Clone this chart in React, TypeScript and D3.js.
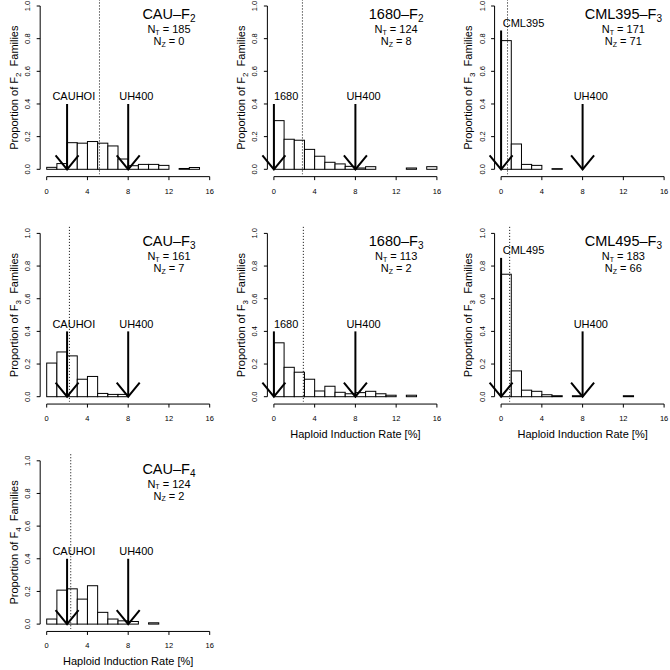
import React from 'react';
import * as d3 from 'd3';

// share of families in each 1% bin of haploid induction rate (0-1, 1-2, ... 15-16)
const cauF2 = [0.012, 0.035, 0.163, 0.16, 0.17, 0.16, 0.143, 0.063, 0.022, 0.03, 0.03, 0.024, 0, 0.005, 0.011, 0];
const f1680F2 = [0.298, 0.184, 0.178, 0.122, 0.08, 0.043, 0.033, 0.018, 0.008, 0.016, 0, 0, 0, 0.008, 0, 0.016];
const cml395F3 = [0.788, 0.155, 0.03, 0.024, 0, 0.004, 0, 0, 0, 0, 0, 0, 0, 0, 0, 0];
const cauF3 = [0.206, 0.274, 0.25, 0.107, 0.124, 0.02, 0.014, 0.014, 0, 0, 0, 0, 0, 0, 0, 0];
const f1680F3 = [0.33, 0.18, 0.15, 0.107, 0.035, 0.064, 0.027, 0.018, 0.025, 0.033, 0.018, 0.009, 0, 0.009, 0, 0];
const cml495F3 = [0.75, 0.158, 0.04, 0.033, 0.012, 0.006, 0, 0.006, 0, 0, 0, 0, 0.006, 0, 0, 0];
const cauF4 = [0.031, 0.208, 0.216, 0.153, 0.235, 0.072, 0.031, 0.02, 0.016, 0, 0.008, 0, 0, 0, 0, 0];

const proportions = [cauF2, f1680F2, cml395F3, cauF3, f1680F3, cml495F3, cauF4];
const crosses = ['CAU', '1680', 'CML395', 'CAU', '1680', 'CML495', 'CAU'];
const generations = ['2', '2', '3', '3', '3', '3', '4'];
const nTotal = [185, 124, 171, 161, 113, 183, 124];
const nZero = [0, 8, 71, 7, 2, 66, 2];
const means = [5.18, 2.8, 0.63, 2.23, 2.89, 0.84, 2.36];
const parents = ['CAUHOI', '1680', 'CML395', 'CAUHOI', '1680', 'CML495', 'CAUHOI'];
const parentRates = [2, 0, 0, 2, 0, 0, 2];
const parentArrowTops = [0.4, 0.4, 0.85, 0.4, 0.4, 0.85, 0.4];
const inducer = 'UH400';
const inducerRate = 8;
const inducerArrowTop = 0.4;
const xTicks = [0, 4, 8, 12, 16];
const yTicks = [0, 0.2, 0.4, 0.6, 0.8, 1.0];
const showXLabel = [false, false, false, false, true, true, true];

// label centre offsets (in x units) from the arrow, per parent label
const parentLabelShift: Record<string, number> = { CAUHOI: 0.66, '1680': 1.2, CML395: 2.2, CML495: 2.2 };
const inducerLabelShift = 0.8;

const font = '"Liberation Sans", Arial, Helvetica, sans-serif';
const plotW = 163;
const plotH = 163.3;

function Panel({ i }: { i: number }) {
  const col = i % 3;
  const row = Math.floor(i / 3);
  const x0 = 46.7 + 227.2 * col;
  const y0 = 169.3 + 227.4 * row;
  const x = d3.scaleLinear().domain([0, 16]).range([x0, x0 + plotW]);
  const y = d3.scaleLinear().domain([0, 1]).range([y0, y0 - plotH]);
  const vals = proportions[i];
  const axisY = y(-0.045);
  const axisX = x(-0.64);
  const gen = generations[i];

  const arrow = (rate: number, top: number, key: string) => {
    const xa = x(rate);
    const ya = y(0);
    return (
      <g key={key} stroke="#000" strokeWidth={2} fill="none">
        <line x1={xa} x2={xa} y1={y(top)} y2={ya} />
        <polyline points={`${xa - 11.5},${ya - 14} ${xa},${ya} ${xa + 11.5},${ya - 14}`} />
      </g>
    );
  };

  return (
    <g fontFamily={font} fill="#000">
      {vals.map((v, b) => (
        <rect key={b} x={x(b)} width={x(b + 1) - x(b)} y={y(v)} height={y(0) - y(v)}
          fill="#fff" stroke="#000" strokeWidth={1} />
      ))}
      <line x1={x(means[i])} x2={x(means[i])} y1={y(1.04)} y2={y(-0.03)}
        stroke="#000" strokeWidth={1} strokeDasharray="1 2" />
      {arrow(parentRates[i], parentArrowTops[i], 'p')}
      {arrow(inducerRate, inducerArrowTop, 'u')}
      <text x={x(parentRates[i] + parentLabelShift[parents[i]])} y={y(parentArrowTops[i] + 0.045)}
        dy="0.35em" textAnchor="middle" fontSize={11}>{parents[i]}</text>
      <text x={x(inducerRate + inducerLabelShift)} y={y(inducerArrowTop + 0.045)}
        dy="0.35em" textAnchor="middle" fontSize={11}>{inducer}</text>

      {/* y axis */}
      <line x1={axisX} x2={axisX} y1={y(0)} y2={y(1)} stroke="#000" strokeWidth={1} />
      {yTicks.map(t => (
        <g key={t}>
          <line x1={axisX - 3.5} x2={axisX} y1={y(t)} y2={y(t)} stroke="#000" />
          <text transform={`translate(${axisX - 10},${y(t)}) rotate(-90)`} textAnchor="middle"
            fontSize={7.5}>{t.toFixed(1)}</text>
        </g>
      ))}
      <text transform={`translate(${x0 - 33},${(y(0) + y(1)) / 2}) rotate(-90)`} textAnchor="middle"
        dy="0.35em" fontSize={11} style={{ whiteSpace: 'pre' }}>
        Proportion of F<tspan dy={3} fontSize={8}>{gen}</tspan><tspan dy={-3}>{'  Families'}</tspan>
      </text>

      {/* x axis */}
      <line x1={x(0)} x2={x(16)} y1={axisY} y2={axisY} stroke="#000" strokeWidth={1} />
      {xTicks.map(t => (
        <g key={t}>
          <line x1={x(t)} x2={x(t)} y1={axisY} y2={axisY + 3.5} stroke="#000" />
          <text x={x(t)} y={axisY + 17} textAnchor="middle" fontSize={7.5}>{t}</text>
        </g>
      ))}
      {showXLabel[i] && (
        <text x={x(8)} y={y0 + 41} textAnchor="middle" fontSize={11}>Haploid Induction Rate [%]</text>
      )}

      {/* title and counts */}
      <text x={x(12)} y={y(1) + 13} textAnchor="middle" fontSize={14.5}>
        {crosses[i]}–F<tspan dy={3} fontSize={10}>{gen}</tspan>
      </text>
      <text x={x(12)} y={y(1) + 27} textAnchor="middle" fontSize={11}>
        N<tspan dy={1.5} fontSize={7}>T</tspan><tspan dy={-1.5}>{` = ${nTotal[i]}`}</tspan>
      </text>
      <text x={x(12)} y={y(1) + 39} textAnchor="middle" fontSize={11}>
        N<tspan dy={1.5} fontSize={7}>Z</tspan><tspan dy={-1.5}>{` = ${nZero[i]}`}</tspan>
      </text>
    </g>
  );
}

export default function App() {
  return (
    <svg width={670} height={670} style={{ position: 'absolute', left: 0, top: 0, background: '#fff' }}>
      <rect width={670} height={670} fill="#fff" />
      {proportions.map((_, i) => <Panel key={i} i={i} />)}
    </svg>
  );
}
